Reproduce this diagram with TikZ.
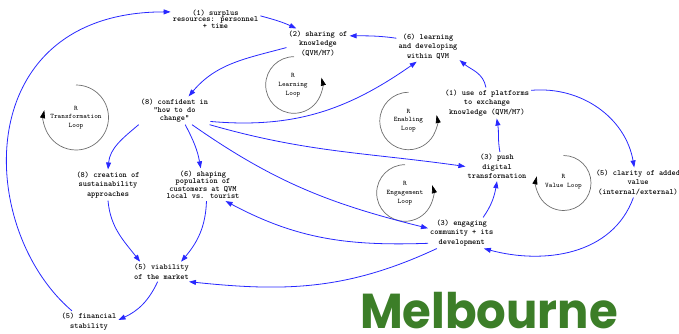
\documentclass[tikz,border=0pt]{standalone}
\usepackage{fontspec}
\usepackage{graphicx}
\newfontfamily\titlefont{Poppins}
\usetikzlibrary{arrows.meta}
\definecolor{flowblue}{RGB}{40,40,255}
\definecolor{loopgray}{RGB}{110,110,110}
\definecolor{mgreen}{RGB}{60,126,40}
\tikzset{
  txt/.style={align=center, inner sep=2pt,
    font=\fontsize{8}{#1}\selectfont\ttfamily\bfseries},
  looptxt/.style={align=center, inner sep=0pt,
    font=\fontsize{6.9}{8.7}\selectfont\ttfamily},
  flow/.style={draw=flowblue, line width=0.8pt,
    -{Triangle[length=7pt,width=5pt]}},
  loopline/.style={draw=loopgray, line width=0.7pt,
    -{Triangle[length=8pt,width=5pt,color=black]}}
}
\begin{document}
\begin{tikzpicture}[x=1pt,y=1pt]
\useasboundingbox (0,0) rectangle (679,333);

% variables
\node[txt=6.7] (surp)  at (215.5,314)   {(1) surplus\\resources: personnel\\+ time};
\node[txt=9.7] (shar)  at (318,289.3)   {(2) sharing of\\knowledge\\(QVM/M7)};
\node[txt=9.5] (learn) at (428,286.3)   {(6) learning\\and developing\\within QVM};
\node[txt=9.7] (plat)  at (487,230)     {(1) use of platforms\\to exchange\\knowledge (QVM/M7)};
\node[txt=8.3] (conf)  at (174.5,222.5) {(8) confident in\\"how to do\\change"};
\node[txt=9.7] (crea)  at (108,148)     {(8) creation of\\sustainability\\approaches};
\node[txt=7.6] (shap)  at (203,148.3)   {(6) shaping\\population of\\customers at QVM\\local vs. tourist};
\node[txt=10]  (via)   at (161.5,61.3)  {(5) viability\\of the market};
\node[txt=9.6] (fin)   at (89,11.5)     {(5) financial\\stability};
\node[txt=9.7] (push)  at (497,166.5)   {(3) push\\digital\\transformation};
\node[txt=9.8] (clar)  at (638,150.5)   {(5) clarity of added\\value\\(internal/external)};
\node[txt=9.7] (eng)   at (461.7,100)   {(3) engaging\\community + its\\development};

% reinforcing loop markers
\node[looptxt] (lpL) at (293,248)   {R\\Learning\\Loop};
\node[looptxt] (lpT) at (76,215.5)  {R\\Transformation\\Loop};
\node[looptxt] (lpE) at (408.5,212.5) {R\\Enabling\\Loop};
\node[looptxt] (lpG) at (405,140)   {R\\Engagement\\Loop};
\node[looptxt] (lpV) at (563.5,151) {R\\Value Loop};

\draw[loopline] ([xshift=1pt]lpL.center) ++(90:28.3pt) arc[start angle=90, end angle=375, radius=28.3pt];
\draw[loopline] (lpT.center) ++(90:32.5pt) arc[start angle=90, end angle=-193, radius=32.5pt];
\draw[loopline] ([yshift=-0.5pt]lpE.center) ++(90:28.7pt) arc[start angle=90, end angle=372, radius=28.7pt];
\draw[loopline] (lpG.center) ++(90:28.3pt) arc[start angle=90, end angle=376, radius=28.3pt];
\draw[loopline] ([yshift=-1pt]lpV.center) ++(90:27.5pt) arc[start angle=90, end angle=-194, radius=27.5pt];

% causal links
\draw[flow] (fin.148) .. controls (-25,105) and (-30,321) .. (surp.171);
\draw[flow] (surp.4) to[out=-15,in=155] (shar.145);
\draw[flow] (learn.165) to[out=172,in=0] (shar.14);
\draw[flow] (shar.187) to[out=195,in=50] (conf.45);
\draw[flow] (conf.-17) to[out=-5,in=215] (learn.233);
\draw[flow] (conf.-22) to[out=-16,in=172] (push.west);
\draw[flow] (conf.-39) to[out=-35,in=166] (eng.172);
\draw[flow] (eng.197) to[out=182,in=-28] (shap.-36);
\draw[flow] (eng.212) to[out=205,in=-6] (via.-20);
\draw[flow] (eng.36) to[out=55,in=-100] (push.south);
\draw[flow] (push.79) to[out=100,in=-80] (plat.-58);
\draw[flow] (plat.94) to[out=100,in=-40] (learn.-23);
\draw[flow] (plat.16) to[out=5,in=100] (clar.104);
\draw[flow] (clar.-107) to[out=-110,in=-15] (eng.-35);
\draw[flow] (conf.south west) to[out=220,in=85] (crea.north);
\draw[flow] (conf.-53) to[out=-62,in=100] (shap.98);
\draw[flow] (crea.south) to[out=-85,in=128] (via.155);
\draw[flow] (shap.-78) to[out=-92,in=50] (via.27);
\draw[flow] (via.-111) to[out=-115,in=25] (fin.3);

% title
\node[anchor=base west, inner sep=0pt, text depth=0pt, text=mgreen,
      font=\titlefont\bfseries\fontsize{49}{49}\selectfont] (title) at (360,4.5)
      {\scalebox{0.95}[1]{Melbourne}};
\end{tikzpicture}
\end{document}
